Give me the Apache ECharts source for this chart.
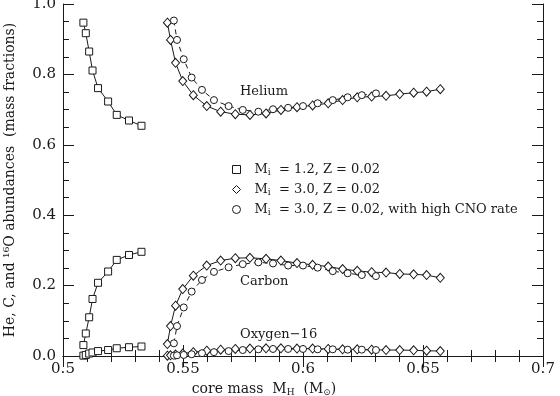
<!DOCTYPE html>
<html>
<head>
<meta charset="utf-8">
<script src="https://cdn.jsdelivr.net/npm/echarts@6/dist/echarts.min.js"></script>
<style>
html,body{margin:0;padding:0;background:#fff;}
#chart{width:560px;height:396px;}
</style>
</head>
<body>
<div id="chart"></div>
<script>
// ---- data ----
var seriesNames = ['Mi = 1.2, Z = 0.02', 'Mi = 3.0, Z = 0.02', 'Mi = 3.0, Z = 0.02, with high CNO rate'];
var xTicks = [0.5, 0.55, 0.6, 0.65, 0.7];
var yTicks = [0.0, 0.2, 0.4, 0.6, 0.8, 1.0];

// Mi = 1.2 (squares)
var sqX  = [0.5085, 0.5095, 0.5109, 0.5123, 0.5146, 0.5188, 0.5224, 0.5275, 0.5327];
var sqHe = [0.947, 0.917, 0.865, 0.811, 0.761, 0.723, 0.685, 0.669, 0.654];
var sqC  = [0.031, 0.064, 0.110, 0.162, 0.208, 0.240, 0.273, 0.287, 0.296];
var sqO  = [0.001, 0.003, 0.007, 0.010, 0.014, 0.017, 0.022, 0.025, 0.027];

// Mi = 3.0 (diamonds)
var dmX  = [0.5435, 0.5448, 0.5469, 0.5499, 0.5543, 0.5599, 0.5657, 0.5718, 0.5779, 0.5846, 0.5908, 0.5975, 0.6040, 0.6105, 0.6165, 0.6226, 0.6286, 0.6346, 0.6403, 0.6461, 0.6515, 0.6572];
var dmHe = [0.947, 0.898, 0.833, 0.781, 0.741, 0.710, 0.694, 0.687, 0.685, 0.689, 0.699, 0.707, 0.712, 0.718, 0.727, 0.735, 0.737, 0.739, 0.744, 0.748, 0.751, 0.758];
var dmC  = [0.034, 0.085, 0.143, 0.190, 0.228, 0.257, 0.271, 0.278, 0.279, 0.276, 0.271, 0.264, 0.259, 0.254, 0.247, 0.242, 0.238, 0.237, 0.233, 0.232, 0.230, 0.222];
var dmO  = [0.001, 0.002, 0.004, 0.007, 0.011, 0.015, 0.018, 0.020, 0.021, 0.022, 0.022, 0.021, 0.021, 0.020, 0.019, 0.019, 0.018, 0.017, 0.017, 0.016, 0.015, 0.014];

// Mi = 3.0, high CNO rate (circles)
var ciX  = [0.5462, 0.5475, 0.5503, 0.5536, 0.5579, 0.5629, 0.5690, 0.5749, 0.5814, 0.5875, 0.5938, 0.6000, 0.6061, 0.6124, 0.6186, 0.6245, 0.6304];
var ciHe = [0.953, 0.898, 0.843, 0.791, 0.756, 0.727, 0.710, 0.699, 0.694, 0.701, 0.705, 0.710, 0.718, 0.727, 0.735, 0.741, 0.746];
var ciC  = [0.036, 0.085, 0.138, 0.183, 0.216, 0.239, 0.252, 0.261, 0.266, 0.263, 0.257, 0.257, 0.251, 0.241, 0.235, 0.230, 0.227];
var ciO  = [0.001, 0.002, 0.003, 0.005, 0.008, 0.011, 0.014, 0.017, 0.019, 0.020, 0.020, 0.020, 0.019, 0.019, 0.018, 0.018, 0.017];

// ---- build ----
function pairs(xs, ys){ return xs.map(function(x,i){ return [x, ys[i]]; }); }
var FONT = 'DejaVu Serif';
var INK = '#1a1a1a';

var styles = [
  {symbol:'rect', size:7, dash:'solid'},
  {symbol:'diamond', size:[8,9], dash:'solid'},
  {symbol:'circle', size:7, dash:[5,4]}
];
var sets = [
  [sqX, [sqHe, sqC, sqO]],
  [dmX, [dmHe, dmC, dmO]],
  [ciX, [ciHe, ciC, ciO]]
];
var series = [];
sets.forEach(function(s, k){
  s[1].forEach(function(ys){
    series.push({
      type:'line', name:seriesNames[k], xAxisIndex:0, yAxisIndex:0,
      data:pairs(s[0], ys),
      symbol:styles[k].symbol, symbolSize:styles[k].size, showAllSymbol:true,
      itemStyle:{color:'#fff', borderColor:INK, borderWidth:1},
      lineStyle:{color:INK, width:1, type:styles[k].dash},
      emphasis:{disabled:true}, animation:false, z:3
    });
  });
});

var rich = {
  n:{fontFamily:FONT, fontSize:13, color:INK, lineHeight:16},
  s:{fontFamily:FONT, fontSize:9, color:INK, lineHeight:4, verticalAlign:'bottom'}
};
var richAx = {
  n:{fontFamily:FONT, fontSize:14, color:INK, lineHeight:16},
  s:{fontFamily:FONT, fontSize:9, color:INK, lineHeight:5, verticalAlign:'bottom'}
};

function legendText(name){
  return '{n|M}{s|i}{n| ' + name.slice(2) + '}';
}

var option = {
  backgroundColor:'#fff',
  animation:false,
  grid:{left:63, right:17, top:4, bottom:40, containLabel:false, outerBoundsMode:'none'},
  legend:{
    orient:'vertical', left:232, top:163, padding:0, itemWidth:8, itemHeight:8, itemGap:5.5,
    selectedMode:false,
    data:[
      {name:seriesNames[0], icon:'rect', itemStyle:{color:'#fff', borderColor:INK, borderWidth:1}},
      {name:seriesNames[1], icon:'diamond', itemStyle:{color:'#fff', borderColor:INK, borderWidth:1}},
      {name:seriesNames[2], icon:'circle', itemStyle:{color:'#fff', borderColor:INK, borderWidth:1}}
    ],
    formatter:legendText,
    textStyle:{rich:rich, padding:[0,0,0,9]}
  },
  xAxis:[{
    type:'value', min:xTicks[0], max:xTicks[xTicks.length-1], interval:0.05,
    position:'bottom',
    axisLine:{lineStyle:{color:INK, width:1}},
    axisTick:{inside:true, length:11, lineStyle:{color:INK}},
    minorTick:{show:true, splitNumber:5, length:6, lineStyle:{color:INK}},
    splitLine:{show:false},
    axisLabel:{fontFamily:FONT, fontSize:15, color:INK, margin:6,
      formatter:function(v){ return String(+v.toFixed(2)); }},
    name:'{n|core mass  M}{s|H}{n|  (M}{s|\u2299}{n|)}',
    nameLocation:'middle', nameGap:25,
    nameTextStyle:{rich:richAx, padding:[0,78,0,0]}
  },{
    type:'value', min:xTicks[0], max:xTicks[xTicks.length-1], interval:0.05,
    position:'top',
    axisLine:{lineStyle:{color:INK, width:1}},
    axisTick:{inside:true, length:11, lineStyle:{color:INK}},
    minorTick:{show:true, splitNumber:5, length:6, lineStyle:{color:INK}},
    splitLine:{show:false}, axisLabel:{show:false}
  }],
  yAxis:[{
    type:'value', min:yTicks[0], max:yTicks[yTicks.length-1], interval:0.2,
    position:'left',
    axisLine:{show:true, lineStyle:{color:INK, width:1}},
    axisTick:{show:true, inside:true, length:11, lineStyle:{color:INK}},
    minorTick:{show:true, splitNumber:4, length:6, lineStyle:{color:INK}},
    splitLine:{show:false},
    axisLabel:{fontFamily:FONT, fontSize:15, color:INK, margin:7,
      formatter:function(v){ return v.toFixed(1); }},
    name:'He, C, and \u00b9\u2076O abundances  (mass fractions)',
    nameLocation:'middle', nameGap:46, nameRotate:90,
    nameTextStyle:{fontFamily:FONT, fontSize:14, color:INK}
  },{
    type:'value', min:yTicks[0], max:yTicks[yTicks.length-1], interval:0.2,
    position:'right',
    axisLine:{show:true, lineStyle:{color:INK, width:1}},
    axisTick:{show:true, inside:true, length:11, lineStyle:{color:INK}},
    minorTick:{show:true, splitNumber:4, length:6, lineStyle:{color:INK}},
    splitLine:{show:false}, axisLabel:{show:false}
  }],
  graphic:[
    {type:'text', left:240, top:85, style:{text:'Helium', font:'13px "DejaVu Serif"', fill:INK}},
    {type:'text', left:240, top:275, style:{text:'Carbon', font:'13px "DejaVu Serif"', fill:INK}},
    {type:'text', left:240, top:328, style:{text:'Oxygen\u221216', font:'13px "DejaVu Serif"', fill:INK}}
  ],
  series:series
};

var chart = echarts.init(document.getElementById('chart'), null, {renderer:'canvas'});
chart.setOption(option);
</script>
</body>
</html>
